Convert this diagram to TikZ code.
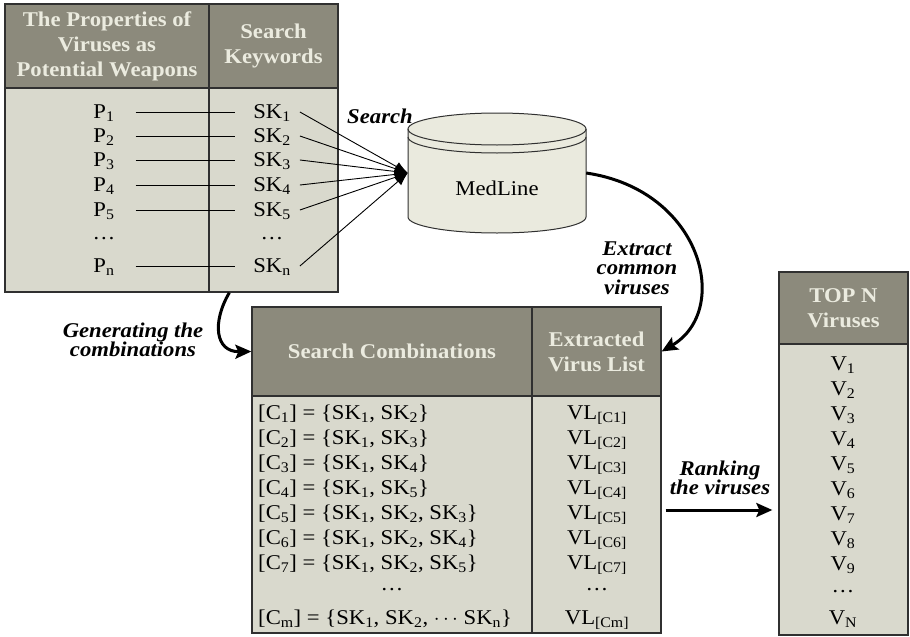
\documentclass[tikz,border=0pt]{standalone}
\usepackage{fontspec}
\setmainfont{Liberation Serif}[FakeStretch=1.08]
\usepackage{tikz}
\usetikzlibrary{arrows.meta,calc}

\definecolor{hdrgray}{HTML}{8C8A7C}
\definecolor{hdrtext}{HTML}{EBEBDF}
\definecolor{cellgray}{HTML}{D9D9CD}
\definecolor{cylcream}{HTML}{EAEADE}
\definecolor{rulegray}{HTML}{303030}

\newcommand{\kw}[1]{SK\textsubscript{#1}}

\begin{document}
\begin{tikzpicture}[x=1pt,y=-1pt,
    font=\fontsize{21}{25}\selectfont,
    hdr/.style={draw=rulegray,line width=1.3pt,fill=hdrgray,text=hdrtext,
                font=\fontsize{21}{25}\selectfont\bfseries,align=center,inner sep=0pt},
    cell/.style={draw=rulegray,line width=1.3pt,fill=cellgray,inner sep=0pt},
    row/.style={inner sep=1pt,text height=13pt,text depth=0pt},
    dotrow/.style={inner sep=1pt,text height=3pt,text depth=0pt},
    tag/.style={font=\fontsize{21}{19.5}\selectfont\bfseries\itshape,align=center},
    thin/.style={line width=0.9pt},
    bigarrow/.style={line width=3pt,-{Stealth[length=16pt,width=14pt,inset=3pt]}}]
  \useasboundingbox (0,0) rectangle (910,637);

  % properties / keywords
  \node[hdr,minimum width=204pt,minimum height=84pt] (propHdr) at (107,46)
       {The Properties of\\Viruses as\\Potential Weapons};
  \node[hdr,minimum width=129pt,minimum height=84pt] (skHdr) at (273.5,46) {Search\\Keywords};
  \node[cell,minimum width=204pt,minimum height=204pt] (propBody) at (107,190) {};
  \node[cell,minimum width=129pt,minimum height=204pt] (skBody) at (273.5,190) {};

  \foreach \i/\y in {1/112,2/136,3/160,4/185,5/210,n/266} {
    \node[row] (p\i) at (104,\y) {P\textsubscript{\i}};
    \node[row] (sk\i) at (272,\y) {\kw{\i}};
    \draw[thin] ([xshift=20pt]p\i.east) -- ([xshift=-17pt]sk\i.west);
  }
  \node[dotrow] (pdots) at (104,238) {\dots};
  \node[dotrow] (skdots) at (272,238) {\dots};

  % medline
  \node[minimum width=178pt,minimum height=88pt,inner sep=0pt] (medline) at (497,173) {};
  \fill[cylcream] (408,129) -- (408,217) arc[start angle=180,end angle=0,x radius=89,y radius=16]
        -- (586,129) arc[start angle=0,end angle=-180,x radius=89,y radius=16] -- cycle;
  \draw[line width=1pt,rulegray] (408,129) -- (408,217)
        arc[start angle=180,end angle=0,x radius=89,y radius=16] -- (586,129);
  \draw[line width=1pt,rulegray] (497,129) ellipse[x radius=89,y radius=16];
  \draw[line width=1pt,rulegray] (408,137) arc[start angle=180,end angle=0,x radius=89,y radius=16];
  \node (medText) at (497,188) {MedLine};

  \foreach \i in {1,...,5,n}
    \draw[thin,-{Latex[length=13pt,width=10pt]}] ([xshift=8pt]sk\i.east) -- (medline.west);
  \node[tag] (searchTag) at (380,116) {Search};

  % combinations / extracted list
  \node[hdr,minimum width=280pt,minimum height=89pt] (combHdr) at (392,351.5) {Search Combinations};
  \node[hdr,minimum width=129pt,minimum height=89pt] (vlHdr) at (596.5,351.5) {Extracted\\Virus List};
  \node[cell,minimum width=280pt,minimum height=237pt] (combBody) at (392,514.5) {};
  \node[cell,minimum width=129pt,minimum height=237pt] (vlBody) at (596.5,514.5) {};

  \foreach \i/\y/\set in {1/413/{\kw1, \kw2},2/438/{\kw1, \kw3},3/463/{\kw1, \kw4},
                         4/488/{\kw1, \kw5},5/513/{\kw1, \kw2, \kw3},
                         6/538/{\kw1, \kw2, \kw4},7/563/{\kw1, \kw2, \kw5}} {
    \node[row,anchor=west] (c\i) at (257,\y) {[C\textsubscript{\i}] = \{\set\}};
    \node[row] (vl\i) at (597,\y) {VL\textsubscript{[C\i]}};
  }
  \node[dotrow] (cdots) at (392,589) {\dots};
  \node[dotrow] (vldots) at (597,589) {\dots};
  \node[row,anchor=west] (cm) at (257,618) {[C\textsubscript{m}] = \{\kw1, \kw2, $\cdots$ \kw{n}\}};
  \node[row] (vlm) at (597,618) {VL\textsubscript{[Cm]}};

  \draw[bigarrow] (medline.east) .. controls (702,190) and (732,310) .. (vlHdr.east);
  \node[tag] (extractTag) at (637,268) {Extract\\common\\viruses};

  \coordinate (genStart) at ([xshift=21pt]skBody.south west);
  \draw[bigarrow] (genStart) .. controls (212,322) and (215,352) .. (combHdr.west);
  \node[tag] (genTag) at (133,340) {Generating the\\combinations};

  % top n
  \node[hdr,minimum width=129pt,minimum height=72pt] (topHdr) at (843.5,308) {TOP N\\Viruses};
  \node[cell,minimum width=129pt,minimum height=291pt] (topBody) at (843.5,489.5) {};
  \foreach \i in {1,...,9}
    \node[row] (v\i) at (843,339+25*\i) {V\textsubscript{\i}};
  \node[dotrow] (vdots) at (843,591) {\dots};
  \node[row] (vN) at (843,618) {V\textsubscript{N}};

  \coordinate (rankY) at (720,510);
  \draw[bigarrow,shorten <=4pt,shorten >=6pt] (vlBody.east |- rankY) -- (topBody.west |- rankY);
  \node[tag] (rankTag) at (720,478) {Ranking\\the viruses};
\end{tikzpicture}
\end{document}
